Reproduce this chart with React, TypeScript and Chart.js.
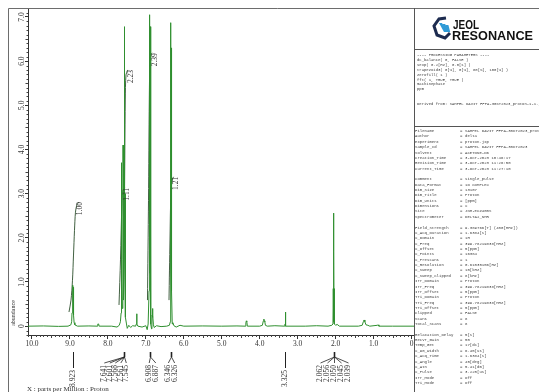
import { useEffect, useRef } from 'react';
import { Chart, registerables } from 'chart.js';
Chart.register(...registerables);

const W = 539;
const H = 384;

// ---- spectrum: [ppm, abundance] ----
const spectrum: [number, number][] = [
  [10.105, 0], [9.7, 0.005], [9.3, -0.005], [9.05, 0.0],
  [8.975, 0.03], [8.955, 0.1], [8.945, 0.3], [8.935, 0.65], [8.928, 0.88], [8.923, 0.93], [8.917, 0.88], [8.91, 0.6], [8.9, 0.25], [8.89, 0.08], [8.87, 0.03], [8.8, 0.0],
  [8.5, 0.005], [8.28, 0.0], [8.265, 0.05], [8.245, 0.05], [8.23, 0.0],
  [7.9, 0.0], [7.76, -0.02], [7.7, 0.02], [7.67, 0.1], [7.652, 0.3], [7.645, 1.2], [7.641, 3.7], [7.637, 1.0],
  [7.62, 0.4], [7.606, 1.5], [7.601, 4.1], [7.597, 1.6], [7.58, 0.6], [7.572, 2.0], [7.568, 6.1], [7.564, 3.0],
  [7.561, 6.78], [7.556, 2.0], [7.549, 1.0], [7.545, 3.0], [7.541, 0.8], [7.53, 0.2], [7.51, 0.05], [7.49, -0.05],
  [7.45, 0.02], [7.4, -0.03], [7.35, 0.01], [7.27, 0.0], [7.25, 0.05], [7.242, 0.28], [7.234, 0.05], [7.21, 0.0],
  [7.1, -0.02], [7.0, 0.01], [6.965, -0.08], [6.94, 0.05], [6.915, 0.8], [6.908, 7.05], [6.9, 1.5], [6.895, 1.2],
  [6.887, 6.78], [6.88, 0.8], [6.865, 0.05], [6.85, -0.06], [6.84, 0.05], [6.835, 0.25], [6.828, 0.2], [6.82, 0.4],
  [6.812, 0.25], [6.8, 0.03], [6.78, -0.03], [6.72, 0.01], [6.6, -0.01], [6.45, 0.0], [6.38, 0.02], [6.355, 0.1],
  [6.35, 1.0], [6.346, 6.87], [6.34, 1.5], [6.335, 1.2], [6.326, 6.3], [6.32, 0.8], [6.305, 0.05], [6.29, 0.08],
  [6.26, 0.01], [6.2, -0.02], [6.1, 0.02], [6.0, 0.0], [5.5, 0.005], [5.0, 0.0], [4.6, 0.005],
  [4.38, 0.0], [4.365, 0.08], [4.352, 0.12], [4.34, 0.1], [4.325, 0.0], [4.0, 0.0], [3.93, 0.02], [3.905, 0.12],
  [3.89, 0.16], [3.878, 0.12], [3.865, 0.1], [3.85, 0.02], [3.8, 0.0], [3.6, 0.01], [3.34, 0.0], [3.33, 0.05],
  [3.325, 0.32], [3.32, 0.05], [3.31, 0.0], [2.8, 0.0], [2.5, 0.01], [2.2, 0.0], [2.1, 0.02], [2.07, 0.05],
  [2.062, 0.85], [2.059, 0.1], [2.056, 1.7], [2.053, 0.2], [2.05, 2.56], [2.047, 0.2], [2.045, 1.7], [2.042, 0.1],
  [2.039, 0.85], [2.03, 0.05], [2.0, 0.02], [1.96, 0.04], [1.9, 0.0], [1.4, 0.0], [1.3, 0.02], [1.27, 0.1],
  [1.25, 0.14], [1.23, 0.1], [1.2, 0.03], [1.15, 0.02], [1.1, 0.0], [0.9, 0.02], [0.88, 0.03], [0.86, 0.0],
  [0.5, 0.0], [-0.065, 0.0],
];

// ---- integral curves: [ppm, level] ----
const integral100: [number, number][] = [
  [9.025, 0.32], [8.972, 0.59], [8.933, 1.04], [8.906, 1.61], [8.88, 2.17], [8.854, 2.58], [8.82, 2.74], [8.77, 2.81],
];
const integral111: [number, number][] = [
  [7.707, 0.48], [7.668, 1.5], [7.628, 2.85], [7.602, 3.08], [7.56, 3.13],
];
const integral223: [number, number][] = [
  [7.589, 0.59], [7.563, 2.85], [7.542, 5.12], [7.523, 5.69], [7.48, 5.8],
];
const integral239: [number, number][] = [
  [6.957, 0.59], [6.93, 2.85], [6.909, 5.12], [6.891, 6.03], [6.864, 6.16], [6.83, 6.18],
];
const integral121: [number, number][] = [
  [6.39, 0.59], [6.364, 1.95], [6.337, 3.08], [6.298, 3.33], [6.27, 3.38],
];
const integralLabels = ['1.00', '1.11', '2.23', '2.39', '1.21'];
const integrals = [integral100, integral111, integral223, integral239, integral121];

// ---- peak picks ----
const peakGroups: string[][] = [
  ['8.923'],
  ['7.641', '7.601', '7.568', '7.561', '7.545'],
  ['6.908', '6.887'],
  ['6.346', '6.326'],
  ['3.325'],
  ['2.062', '2.056', '2.050', '2.045', '2.039'],
];
const groupShift = [0, -9.2, 2, 0, 0, 0];
const groupSpacing = [0, 5.5, 6.6, 6.3, 0, 7];

// ---- axes ----
const xTickValues = [10, 9, 8, 7, 6, 5, 4, 3, 2, 1, 0];
const xTickLabels = ['10.0', '9.0', '8.0', '7.0', '6.0', '5.0', '4.0', '3.0', '2.0', '1.0', '0'];
const yTickValues = [0, 1, 2, 3, 4, 5, 6, 7];
const yTickLabels = ['0', '1.0', '2.0', '3.0', '4.0', '5.0', '6.0', '7.0'];

// ---- side panel text ----
const procLines = [
  '---- PROCESSING PARAMETERS ----',
  'dc_balance( 0, FALSE )',
  'sexp( 0.2[Hz], 0.0[s] )',
  'trapezoid3( 0[%], 0[%], 80[%], 100[%] )',
  'zerofill( 1 )',
  'fft( 1, TRUE, TRUE )',
  'machinephase',
  'ppm',
  '',
  '',
  'Derived from: SAMPEL DAVIT FFPA-30KT2023_proton-1-1.jdf',
];
const paramRows: ([string, string] | null)[] = [
  ['Filename', 'SAMPEL DAVIT FFPA-30KT2023_proton-1-1.jdf'],
  ['Author', 'delta'],
  ['Experiment', 'proton.jxp'],
  ['Sample_Id', 'SAMPEL DAVIT FFPA-30KT2023'],
  ['Solvent', 'ACETONE-D6'],
  ['Creation_Time', '3-OCT-2023 10:46:17'],
  ['Revision_Time', '3-OCT-2023 11:26:50'],
  ['Current_Time', '3-OCT-2023 11:27:10'],
  null,
  ['Comment', 'single_pulse'],
  ['Data_Format', '1D COMPLEX'],
  ['Dim_Size', '13107'],
  ['Dim_Title', 'Proton'],
  ['Dim_Units', '[ppm]'],
  ['Dimensions', 'X'],
  ['Site', 'JNM-ECZ400S'],
  ['Spectrometer', 'DELTA2_NMR'],
  null,
  ['Field_Strength', '9.389766[T] (400[MHz])'],
  ['X_Acq_Duration', '1.6384[s]'],
  ['X_Domain', '1H'],
  ['X_Freq', '399.78219838[MHz]'],
  ['X_Offset', '5[ppm]'],
  ['X_Points', '16384'],
  ['X_Prescans', '1'],
  ['X_Resolution', '0.61035156[Hz]'],
  ['X_Sweep', '10[kHz]'],
  ['X_Sweep_Clipped', '8[kHz]'],
  ['Irr_Domain', 'Proton'],
  ['Irr_Freq', '399.78219838[MHz]'],
  ['Irr_Offset', '5[ppm]'],
  ['Tri_Domain', 'Proton'],
  ['Tri_Freq', '399.78219838[MHz]'],
  ['Tri_Offset', '5[ppm]'],
  ['Clipped', 'FALSE'],
  ['Scans', '8'],
  ['Total_Scans', '8'],
  null,
  ['Relaxation_Delay', '5[s]'],
  ['Recvr_Gain', '50'],
  ['Temp_Get', '17[dC]'],
  ['X_90_Width', '6.45[us]'],
  ['X_Acq_Time', '1.6384[s]'],
  ['X_Angle', '45[deg]'],
  ['X_Atn', '5.41[dB]'],
  ['X_Pulse', '3.225[us]'],
  ['Irr_Mode', 'Off'],
  ['Tri_Mode', 'Off'],
];

const SERIF = '"Liberation Serif", "DejaVu Serif", serif';
const MONO = '"Liberation Mono", "DejaVu Sans Mono", monospace';

function vtext(ctx: CanvasRenderingContext2D, s: string, x: number, y: number, align: CanvasTextAlign) {
  ctx.save();
  ctx.translate(x, y);
  ctx.rotate(-Math.PI / 2);
  ctx.textAlign = align;
  ctx.textBaseline = 'middle';
  ctx.fillText(s, 0, 0);
  ctx.restore();
}

const decor = {
  id: 'decor',
  afterDraw(chart: any) {
    const ctx: CanvasRenderingContext2D = chart.ctx;
    const xs = chart.scales.x;
    const ys = chart.scales.y;
    const ca = chart.chartArea;
    ctx.save();
    ctx.lineWidth = 1;

    // outer frame and panel borders
    ctx.strokeStyle = '#6d6d6d';
    ctx.beginPath();
    ctx.moveTo(0.5, H);
    ctx.lineTo(0.5, 0.5);
    ctx.lineTo(W, 0.5);
    ctx.stroke();
    const pxr = Math.round(ca.right) + 0.5;
    ctx.strokeStyle = '#555';
    ctx.beginPath();
    ctx.moveTo(pxr, 0);
    ctx.lineTo(pxr, H);
    ctx.moveTo(pxr, 41.5);
    ctx.lineTo(W, 41.5);
    ctx.moveTo(pxr, 118.5);
    ctx.lineTo(W, 118.5);
    ctx.stroke();

    // minor ticks
    ctx.strokeStyle = '#444';
    ctx.beginPath();
    for (let i = -1; i <= 101; i++) {
      if (i % 10 === 0) continue;
      const v = i / 10;
      if (v < xs.min || v > xs.max) continue;
      const x = Math.round(xs.getPixelForValue(v)) + 0.5;
      const len = i % 5 === 0 ? 3 : 2;
      ctx.moveTo(x, ca.bottom);
      ctx.lineTo(x, ca.bottom + len);
    }
    for (let i = -2; i <= 71; i++) {
      if (i % 10 === 0) continue;
      const v = i / 10;
      if (v < ys.min || v > ys.max) continue;
      const y = Math.round(ys.getPixelForValue(v)) + 0.5;
      const len = i % 5 === 0 ? 2.5 : 1.5;
      ctx.moveTo(ca.left - len, y);
      ctx.lineTo(ca.left, y);
    }
    ctx.stroke();

    // axis title
    ctx.fillStyle = '#333';
    ctx.font = `6px ${SERIF}`;
    vtext(ctx, 'abundance', 5, 305, 'center');
    ctx.font = `7px ${SERIF}`;
    ctx.textAlign = 'left';
    ctx.textBaseline = 'middle';
    ctx.fillText('X : parts per Million : Proton', 19, 381);

    // integral labels
    ctx.font = `7.5px ${SERIF}`;
    ctx.fillStyle = '#333';
    integrals.forEach((pts, k) => {
      let maxV = -1;
      pts.forEach(p => { if (p[1] > maxV) maxV = p[1]; });
      const steep = pts.find(p => p[1] >= 0.9 * maxV)!;
      const ax = xs.getPixelForValue(steep[0]) + 5;
      const ay = ys.getPixelForValue(maxV);
      vtext(ctx, integralLabels[k], ax, ay, 'right');
    });

    // peak pick labels
    ctx.strokeStyle = '#222';
    ctx.fillStyle = '#333';
    const yA = 344;
    peakGroups.forEach((g, gi) => {
      const mean = g.reduce((s, v) => s + parseFloat(v), 0) / g.length;
      const jx = Math.round(xs.getPixelForValue(mean)) + 0.5;
      if (g.length === 1) {
        ctx.beginPath();
        ctx.moveTo(jx, yA);
        ctx.lineTo(jx, yA + 16);
        ctx.stroke();
        vtext(ctx, g[0], jx, yA + 18, 'right');
      } else {
        ctx.lineWidth = 1.6;
        ctx.beginPath();
        ctx.moveTo(jx, yA);
        ctx.lineTo(jx, yA + 5);
        ctx.stroke();
        ctx.lineWidth = 0.8;
        const sp = groupSpacing[gi];
        g.forEach((lab, i) => {
          const lx = jx + (i - (g.length - 1) / 2) * sp + groupShift[gi];
          ctx.beginPath();
          ctx.moveTo(jx, yA + 5);
          ctx.lineTo(lx, yA + 11);
          ctx.stroke();
          vtext(ctx, lab, lx, yA + 13, 'right');
        });
        ctx.lineWidth = 1;
      }
    });

    // logo
    const cx = 434, cy = 20;
    ctx.strokeStyle = '#1d2b4f';
    ctx.lineWidth = 3;
    ctx.beginPath();
    ctx.moveTo(cx + 4, cy - 10);
    ctx.lineTo(cx - 3, cy - 9);
    ctx.lineTo(cx - 8, cy - 2);
    ctx.lineTo(cx - 5, cy + 7);
    ctx.lineTo(cx + 3, cy + 10);
    ctx.lineTo(cx + 8, cy + 5);
    ctx.stroke();
    ctx.fillStyle = '#2f9ad6';
    for (let i = 0; i < 3; i++) {
      const ox = i * 3.2;
      ctx.beginPath();
      ctx.moveTo(cx - 3 + ox, cy - 5 + ox * 0.3);
      ctx.lineTo(cx + 0 + ox, cy - 5 + ox * 0.3);
      ctx.lineTo(cx + 5 + ox * 0.5, cy + 4);
      ctx.lineTo(cx + 2 + ox * 0.5, cy + 4);
      ctx.closePath();
      ctx.fill();
    }
    ctx.fillStyle = '#111';
    ctx.textAlign = 'left';
    ctx.textBaseline = 'alphabetic';
    const drawFit = (s: string, x: number, y: number, size: number, w: number) => {
      ctx.font = `bold ${size}px "Liberation Sans", Arial, sans-serif`;
      const m = ctx.measureText(s).width;
      ctx.save();
      ctx.translate(x, y);
      ctx.scale(w / m, 1);
      ctx.fillText(s, 0, 0);
      ctx.restore();
    };
    drawFit('JEOL', 445, 21, 13, 26);
    drawFit('RESONANCE', 444, 32, 13, 81);

    // processing parameters
    ctx.fillStyle = '#444';
    ctx.font = `3.9px ${MONO}`;
    ctx.textBaseline = 'middle';
    procLines.forEach((s, i) => {
      if (s) ctx.fillText(s, 409, 47 + i * 4.9);
    });

    // parameter table
    ctx.font = `4px ${MONO}`;
    paramRows.forEach((r, i) => {
      if (!r) return;
      const y = 123 + i * 5.36;
      ctx.fillText(r[0], 407, y);
      ctx.fillText('=', 452, y);
      ctx.fillText(r[1], 457, y);
    });

    ctx.restore();
  },
};

export default function App() {
  const ref = useRef<HTMLCanvasElement>(null);
  useEffect(() => {
    document.documentElement.style.overflow = 'hidden';
    document.body.style.overflow = 'hidden';
    const canvas = ref.current!;
    const intColors = '#2c4f2c';
    const chart = new Chart(canvas, {
      type: 'line',
      data: {
        datasets: [
          {
            data: spectrum.map(([x, y]) => ({ x, y })),
            borderColor: '#2f8f2f',
            borderWidth: 1,
            pointRadius: 0,
            tension: 0,
            fill: false,
          },
          ...integrals.map(pts => ({
            data: pts.map(([x, y]) => ({ x, y })),
            borderColor: intColors,
            borderWidth: 0.9,
            pointRadius: 0,
            tension: 0.3,
            fill: false,
          })),
        ],
      },
      options: {
        animation: false,
        responsive: false,
        devicePixelRatio: 1,
        events: [],
        layout: { padding: { top: 1, right: 133, left: 0, bottom: 0 } },
        plugins: { legend: { display: false }, tooltip: { enabled: false } },
        scales: {
          x: {
            type: 'linear',
            reverse: true,
            min: -0.065,
            max: 10.105,
            afterBuildTicks: (s: any) => { s.ticks = xTickValues.map(v => ({ value: v })); },
            afterFit: (s: any) => { s.height = 57; s.paddingLeft = 0; s.paddingRight = 0; },
            ticks: {
              autoSkip: false,
              maxRotation: 0,
              minRotation: 0,
              padding: 1,
              color: '#333',
              font: { family: SERIF, size: 7.5 },
              callback: (_v: any, i: number) => xTickLabels[i],
            },
            grid: { drawOnChartArea: false, drawTicks: true, tickLength: 4, color: '#333', lineWidth: 1 },
            border: { display: true, color: '#333', width: 1 },
          },
          y: {
            type: 'linear',
            min: -0.2,
            max: 7.18,
            afterBuildTicks: (s: any) => { s.ticks = yTickValues.map(v => ({ value: v })); },
            afterFit: (s: any) => { s.width = 20; s.paddingTop = 0; s.paddingBottom = 0; },
            ticks: {
              autoSkip: false,
              minRotation: 90,
              maxRotation: 90,
              crossAlign: 'center',
              padding: -1.7,
              color: '#333',
              font: { family: SERIF, size: 7.5 },
              callback: (_v: any, i: number) => yTickLabels[i],
            },
            grid: { drawOnChartArea: false, drawTicks: true, tickLength: 3, color: '#333', lineWidth: 1 },
            border: { display: true, color: '#333', width: 1 },
          },
        },
      },
      plugins: [decor],
    } as any);
    return () => chart.destroy();
  }, []);
  return <canvas ref={ref} width={W} height={H} style={{ display: 'block', width: W, height: H }} />;
}
